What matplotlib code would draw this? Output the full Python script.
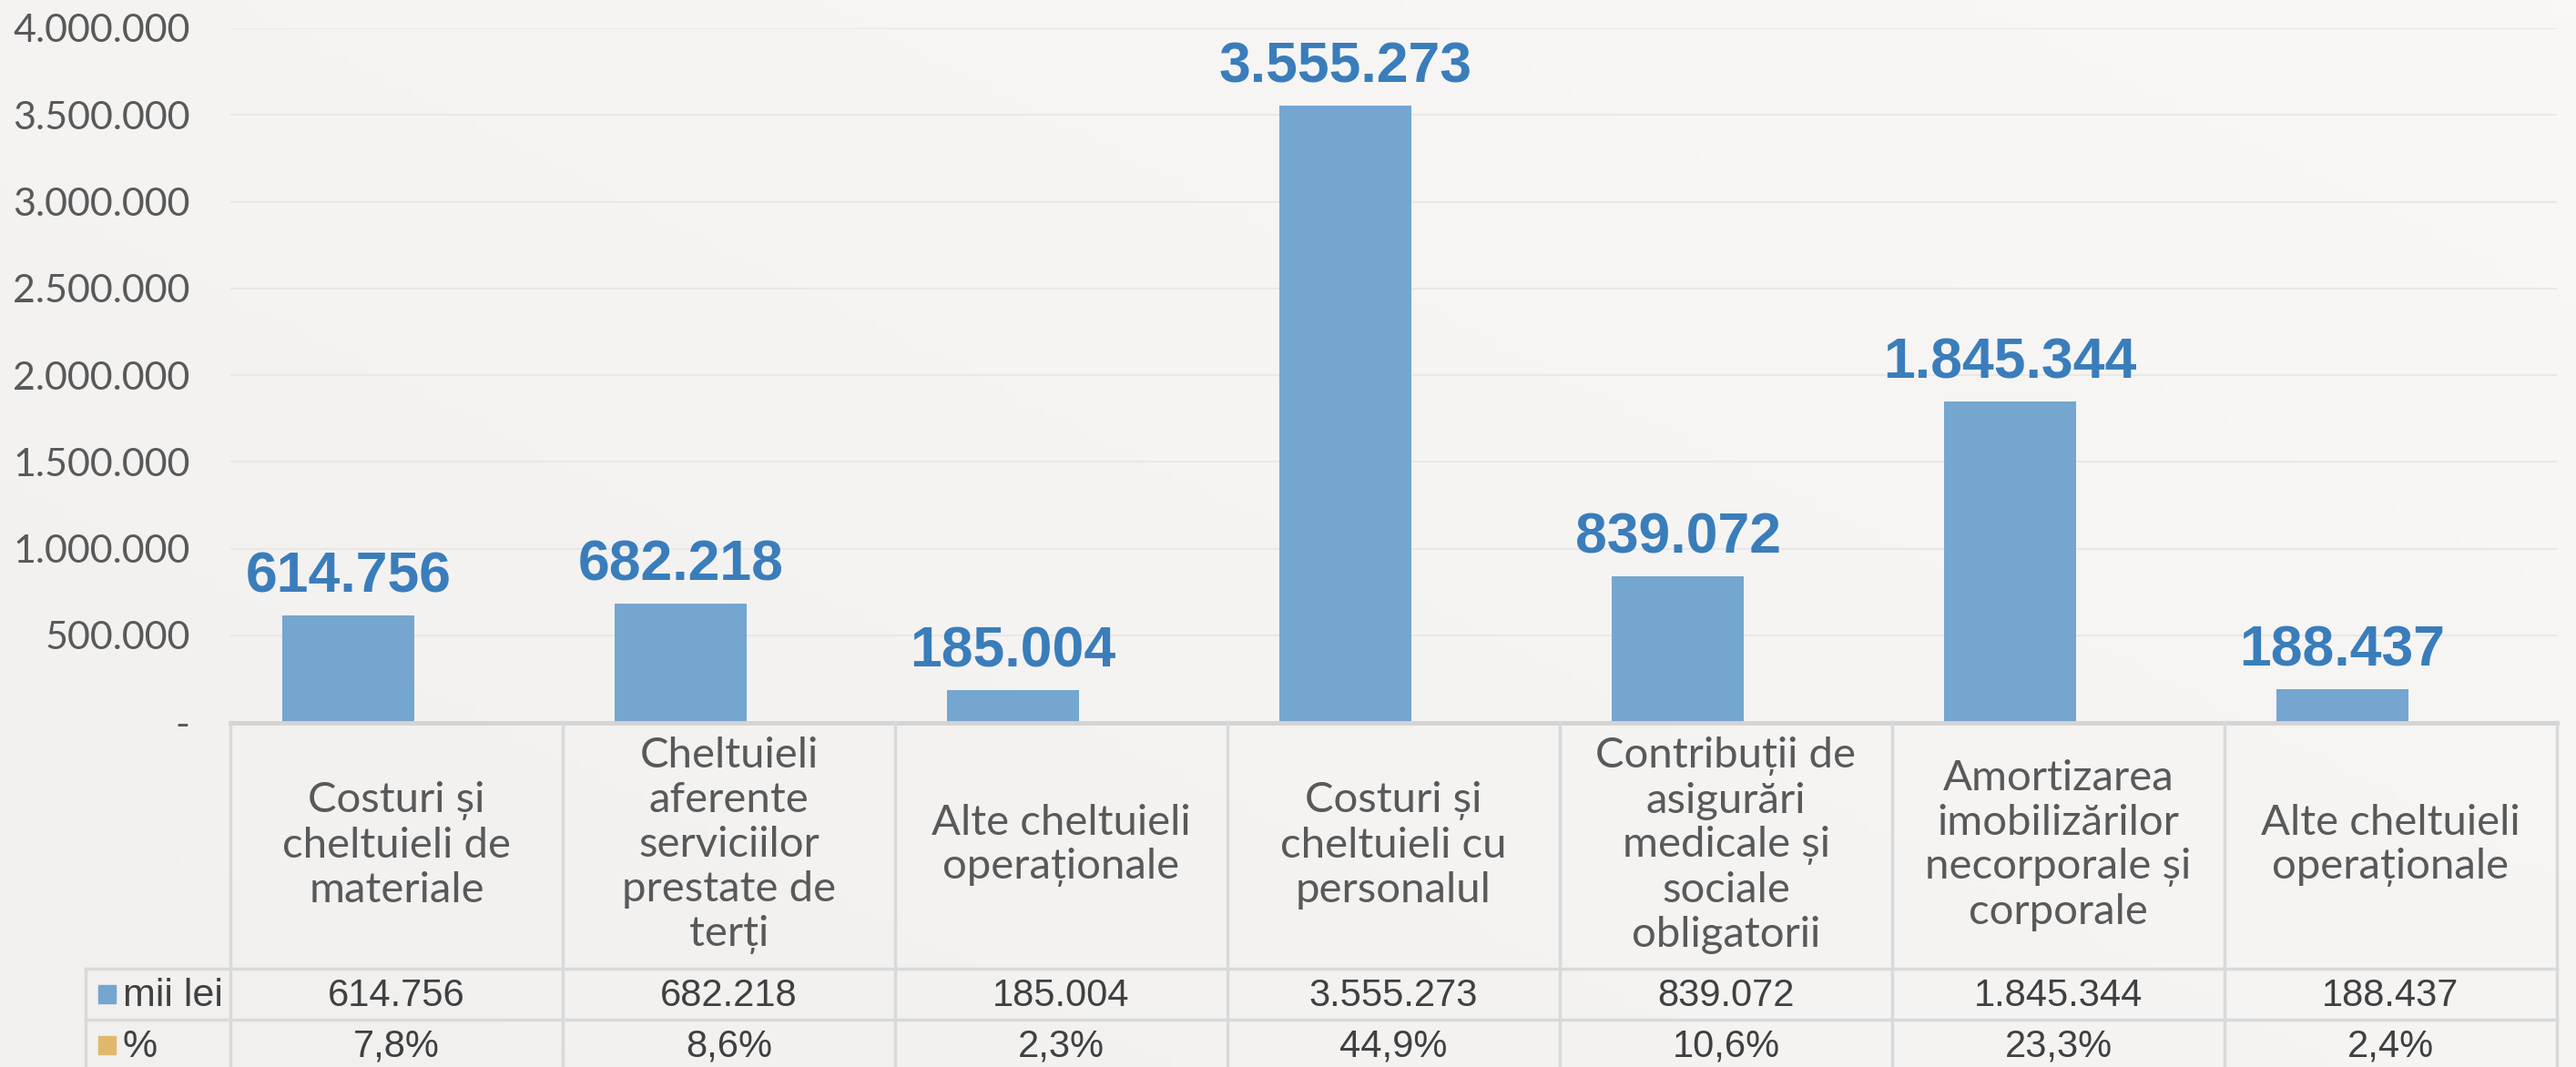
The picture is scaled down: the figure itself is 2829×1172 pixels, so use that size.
import matplotlib
matplotlib.use("Agg")
import matplotlib.pyplot as plt
import numpy as np

categories = [
    "Costuri și\ncheltuieli de\nmateriale",
    "Cheltuieli\naferente\nserviciilor\nprestate de\nterți",
    "Alte cheltuieli\noperaționale",
    "Costuri și\ncheltuieli cu\npersonalul",
    "Contribuții de\nasigurări\nmedicale și\nsociale\nobligatorii",
    "Amortizarea\nimobilizărilor\nnecorporale și\ncorporale",
    "Alte cheltuieli\noperaționale",
]
values_mii_lei = [614756, 682218, 185004, 3555273, 839072, 1845344, 188437]
percent = [7.8, 8.6, 2.3, 44.9, 10.6, 23.3, 2.4]
yticks = [0, 500000, 1000000, 1500000, 2000000, 2500000, 3000000, 3500000, 4000000]
series_names = ["mii lei", "%"]

BAR_C = "#74a6cf"
LABEL_C = "#3a7dbb"
PCT_C = "#e0b86c"
GRID_C = "#e9e8e7"
LINE_C = "#d9d9d9"
TXT_C = "#595959"
TBL_TXT = "#404040"

W, H = 2829, 1172
fig = plt.figure(figsize=(W / 100, H / 100), dpi=100)

# background gradient
bg = fig.add_axes([0, 0, 1, 1], zorder=-10)
gx, gy = np.meshgrid(np.linspace(0, 1, 200), np.linspace(0, 1, 100))
grad = 0.55 * gx + 0.45 * (1 - gy)
bg.imshow(grad, cmap=matplotlib.colors.LinearSegmentedColormap.from_list(
    "bgc", ["#f1f0ef", "#f9f8f7"]), aspect="auto", extent=[0, 1, 0, 1])
bg.axis("off")

def fmt(v):
    return f"{v:,.0f}".replace(",", ".")

def px(x):
    return x / W

left_px, right_px = 253, 2808
zero_px, top_px = 793, 31
ax = fig.add_axes([px(left_px), (H - zero_px) / H, px(right_px - left_px), (zero_px - top_px) / H])
ax.set_facecolor("none")
x = np.arange(len(values_mii_lei))
bar_w = 0.395
offset = -0.145  # first series of a clustered pair (second series ~0 height)
ax.bar(x + offset, values_mii_lei, width=bar_w, color=BAR_C, zorder=3)
ax.set_xlim(-0.5, len(x) - 0.5)
ax.set_ylim(0, 4000000)
ax.set_yticks(yticks)
ax.set_yticklabels(["-" if t == 0 else fmt(t) for t in yticks],
                   fontsize=31, color=TXT_C, family=["Lato", "DejaVu Sans"])
ax.tick_params(axis="y", length=0, pad=32)
ax.tick_params(axis="x", length=0, labelbottom=False)
ax.grid(axis="y", color=GRID_C, linewidth=1.5, zorder=0)
for s in ax.spines.values():
    s.set_visible(False)
for xi, v in zip(x, values_mii_lei):
    ax.annotate(fmt(v), (xi + offset, v), xytext=(0, 9), textcoords="offset points",
                ha="center", va="bottom", fontsize=45, fontweight="bold",
                color=LABEL_C, family=["Liberation Sans", "DejaVu Sans"])

# table
tb = fig.add_axes([px(left_px), 0, px(right_px - left_px), (H - zero_px) / H])
tb.set_xlim(-0.5, len(x) - 0.5)
tb.set_ylim(H, zero_px)
tb.axis("off")
tb.set_facecolor("none")
col_w = (right_px - left_px) / len(x)
leg_left = -0.5 - (left_px - 94) / col_w
row1, row2 = 1064, 1120
tb.plot([-0.5, len(x) - 0.5], [zero_px + 1, zero_px + 1], color="#d4d4d4", lw=3.5, clip_on=False)
for yy in (row1, row2):
    tb.plot([leg_left, len(x) - 0.5], [yy, yy], color=LINE_C, lw=2.5, clip_on=False)
for i in range(len(x) + 1):
    tb.plot([i - 0.5, i - 0.5], [zero_px, H], color=LINE_C, lw=2.5, clip_on=False)
tb.plot([leg_left, leg_left], [row1, H], color=LINE_C, lw=2.5, clip_on=False)

for i, lab in enumerate(categories):
    tb.text(i, (zero_px + row1) / 2, lab, ha="center", va="center", fontsize=34,
            color=TXT_C, linespacing=1.2, family=["Lato", "DejaVu Sans"])
    tb.text(i, (row1 + row2) / 2 + 2, fmt(values_mii_lei[i]), ha="center", va="center",
            fontsize=30, color=TBL_TXT, family=["Liberation Sans", "DejaVu Sans"])
    tb.text(i, (row2 + row2 + 56) / 2 + 2, f"{percent[i]:.1f}%".replace(".", ","),
            ha="center", va="center", fontsize=30, color=TBL_TXT,
            family=["Liberation Sans", "DejaVu Sans"])

sq_x0 = leg_left + 14 / col_w
sq_w = 19 / col_w
for yy0, name, col in ((row1, series_names[0], BAR_C), (row2, series_names[1], PCT_C)):
    yc = yy0 + 28
    tb.add_patch(plt.Rectangle((sq_x0, yc - 10), sq_w, 20, color=col, clip_on=False))
    tb.text(sq_x0 + 27 / col_w, yc + 2, name, ha="left", va="center", fontsize=31,
            color=TBL_TXT, family=["Liberation Sans", "DejaVu Sans"])

fig.savefig("out.png", dpi=100)
